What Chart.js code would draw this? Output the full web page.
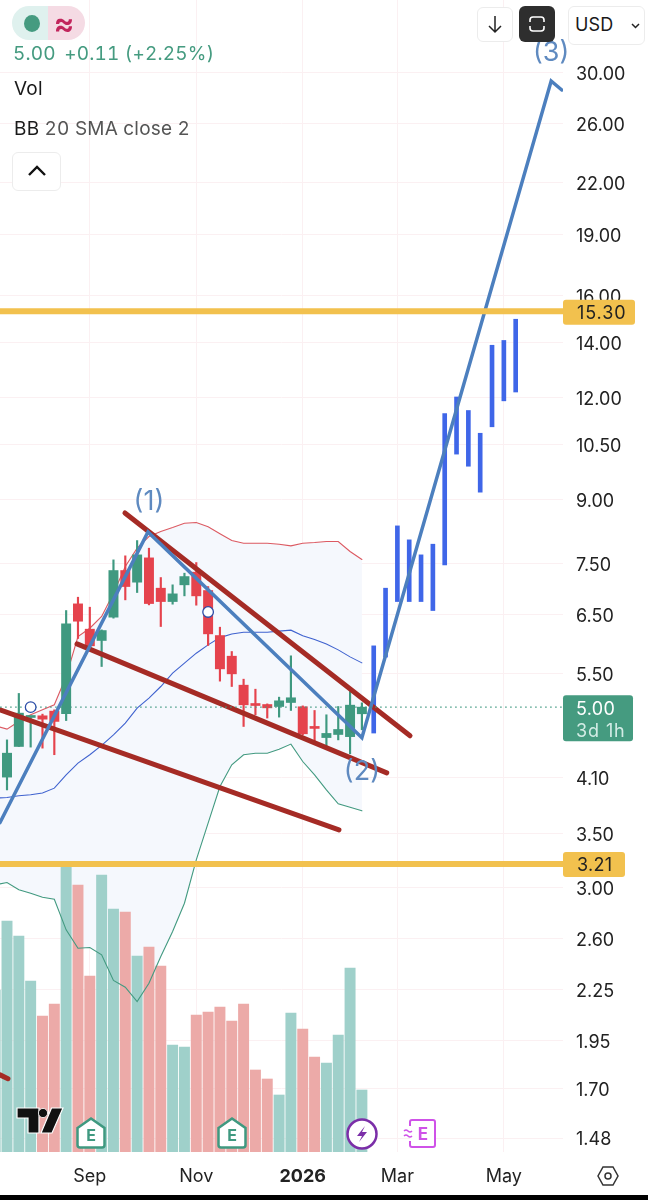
<!DOCTYPE html>
<html><head><meta charset="utf-8">
<script src="https://cdn.jsdelivr.net/npm/chart.js@4"></script>
<style>
html,body{margin:0;padding:0;background:#000;width:648px;height:1200px;overflow:hidden;font-family:Inter,"Noto Sans",sans-serif}
#wrap{position:relative;width:648px;height:1195px;background:#fff;overflow:hidden}
canvas{position:absolute;left:0;top:0}
.t{position:absolute;white-space:nowrap;font-size:19px;line-height:22px;letter-spacing:.2px;font-variant-numeric:tabular-nums}
.box{position:absolute;background:#fff;border:1.5px solid #ececec;border-radius:6px;box-sizing:border-box}
svg{position:absolute;overflow:visible}
</style></head><body>
<div id="wrap">
<canvas id="c" width="648" height="1195"></canvas>

<div style="position:absolute;left:12px;top:6px;width:36px;height:34px;background:#dff1ee;border-radius:17px 0 0 17px"></div>
<div style="position:absolute;left:48px;top:6px;width:37px;height:34px;background:#f5dbe4;border-radius:0 17px 17px 0"></div>
<div style="position:absolute;left:24px;top:15px;width:16px;height:17px;background:#459b80;border-radius:50%"></div>
<div class="t" style="left:54px;top:8px;color:#c2255c;font-size:31px;line-height:29px;font-weight:600">≈</div>
<div class="t" style="left:13px;top:43px;color:#459b80">5.00 <span style="margin-left:3px">+0.11 (+2.25%)</span></div>
<div class="t" style="left:14px;top:78px;color:#1a1a1a">Vol</div>
<div class="t" style="left:14px;top:118px;color:#555"><span style="color:#1a1a1a">BB</span> 20 SMA close 2</div>
<div class="box" style="left:12px;top:152px;width:49px;height:39px"></div>
<svg style="left:27px;top:165px" width="20" height="12"><path d="M2 10 L10 2 L18 10" fill="none" stroke="#111" stroke-width="2.4"/></svg>
<div class="box" style="left:477px;top:7px;width:36px;height:35px"></div>
<svg style="left:487px;top:14px" width="16" height="20"><path d="M8 2V18M2 12L8 18L14 12" fill="none" stroke="#222" stroke-width="1.5"/></svg>
<div style="position:absolute;left:519px;top:6px;width:36px;height:36px;background:#2e2e2e;border-radius:6px"></div>
<svg style="left:528px;top:15px" width="18" height="18"><path d="M2 7V5Q2 2 5 2H13Q16 2 16 5V7M2 11V13Q2 16 5 16H13Q16 16 16 13V11" fill="none" stroke="#fff" stroke-width="1.6"/></svg>
<div class="box" style="left:568px;top:6px;width:77px;height:39px"></div>
<div class="t" style="left:575px;top:14px;color:#1a1a1a;font-size:18px">USD</div>
<svg style="left:631px;top:23px" width="9" height="6"><path d="M1 1L4.500 4.500L8 1" fill="none" stroke="#222" stroke-width="1.500"/></svg>

<svg style="left:17px;top:1108px" width="52" height="26" viewBox="0 0 52 26">
<path d="M46 0L35 25H24L34.500 0Z" fill="#111" stroke="#fff" stroke-width="1.200"/><path d="M0 0H22V25H11V10H0Z" fill="#111" stroke="#fff" stroke-width="1.200"/><circle cx="26" cy="5" r="4.600" fill="#111" stroke="#fff" stroke-width=".8"/></svg>
<svg style="left:76px;top:1117px" width="30" height="32" viewBox="0 0 30 32"><path d="M1.500 11L15 1.500L28.500 11V28Q28.500 30.500 26 30.500H4Q1.500 30.500 1.500 28Z" fill="#fff" stroke="#3f9980" stroke-width="2.500"/><text x="15" y="24" text-anchor="middle" font-family="Inter" font-weight="700" font-size="16" fill="#3f9980">E</text></svg>
<svg style="left:217px;top:1117px" width="30" height="32" viewBox="0 0 30 32"><path d="M1.500 11L15 1.500L28.500 11V28Q28.500 30.500 26 30.500H4Q1.500 30.500 1.500 28Z" fill="#fff" stroke="#3f9980" stroke-width="2.500"/><text x="15" y="24" text-anchor="middle" font-family="Inter" font-weight="700" font-size="16" fill="#3f9980">E</text></svg>
<svg style="left:346px;top:1118px" width="32" height="32" viewBox="0 0 32 32"><circle cx="16" cy="16" r="14.500" fill="#fff" stroke="#7b2ea8" stroke-width="2.500"/><path d="M19 8L11 18H16L13 24L21 14H16Z" fill="#7b2ea8"/></svg>
<svg style="left:403px;top:1119px" width="33" height="29" viewBox="0 0 33 29"><path d="M7 7V3Q7 1 9 1H30Q32 1 32 3V26Q32 28 30 28H9Q7 28 7 26V22" fill="#fff" stroke="#cf52e8" stroke-width="2"/><path d="M1 12Q3 10 5 12T9 12M1 17Q3 15 5 17T9 17" fill="none" stroke="#cf52e8" stroke-width="1.500"/><text x="20" y="21" text-anchor="middle" font-family="Inter" font-weight="700" font-size="17" fill="#cf52e8">E</text></svg>
<svg style="left:596px;top:1164px" width="24" height="24" viewBox="0 0 24 24"><path d="M7 3H17L22 12L17 21H7L2 12Z" fill="none" stroke="#333" stroke-width="1.500"/><circle cx="12" cy="12" r="3" fill="none" stroke="#333" stroke-width="1.500"/></svg>
</div>
<script>
// --- price data (weekly candles, USD) ---
const candleIndex = Array.from({length:31},(_,i)=>i);
const opens  = [4.103,4.474,4.856,4.879,4.944,4.907,6.694,6.232,6.036,6.447,7.355,7.117,7.623,6.997,6.738,7.064,7.321,6.951,6.121,5.774,5.320,5.051,5.037,5.009,5.066,5.005,4.734,4.588,4.628,4.600,4.907];
const closes = [4.390,4.916,4.870,4.833,4.802,6.326,6.374,5.945,6.208,7.355,7.030,7.688,6.700,6.738,6.886,7.231,6.847,6.150,5.571,5.493,5.033,5.023,4.990,5.090,5.134,4.637,4.708,4.642,4.694,5.028,5.000];
const highs  = [4.558,5.197,4.870,4.902,4.962,6.569,6.821,6.631,6.220,7.580,7.667,8.005,7.834,7.211,7.064,7.300,7.523,7.030,6.267,5.851,5.411,5.260,5.046,5.143,5.780,5.018,4.953,4.893,5.009,5.226,5.061];
const lows   = [3.957,4.474,4.466,4.453,4.371,4.814,6.070,5.934,5.608,6.429,6.770,6.912,6.675,6.279,6.688,6.847,6.669,5.951,5.381,5.300,4.734,4.893,4.848,4.861,4.953,4.624,4.537,4.474,4.558,4.382,4.690];
// --- volume, millions; first entry is the week before candle 0 ---
const volumes   = [1.62,2.31,2.16,1.71,1.36,1.48,2.87,2.67,1.76,2.77,2.43,2.40,1.96,2.05,1.86,1.07,1.05,1.37,1.40,1.45,1.31,1.48,0.82,0.73,0.57,1.39,1.23,0.95,0.89,1.17,1.84,0.62];
const volumeUp  = [1,1,1,1,0,0,1,0,0,1,1,0,1,0,0,1,1,0,0,0,0,0,0,0,1,1,0,0,1,1,1,1];
// --- Bollinger bands; first entry is the week before candle 0 ---
const bbUpper = [4.743,4.699,4.802,4.893,4.962,5.033,5.452,6.104,6.249,6.459,6.899,7.439,7.834,8.096,8.212,8.305,8.407,8.423,8.322,8.162,8.005,7.945,7.945,7.945,7.923,7.886,7.945,7.960,7.983,7.983,7.762,7.588];
const bbBasis = [3.866,3.874,3.892,3.904,3.922,3.977,4.130,4.268,4.371,4.487,4.624,4.779,4.986,5.129,5.300,5.504,5.661,5.823,5.962,6.085,6.147,6.178,6.178,6.178,6.197,6.215,6.116,6.054,5.978,5.878,5.763,5.666];
const bbLower = [3.026,3.046,2.984,2.956,2.922,2.905,2.665,2.530,2.535,2.483,2.310,2.266,2.176,2.292,2.471,2.652,2.873,3.248,3.602,3.996,4.248,4.371,4.390,4.390,4.440,4.504,4.288,4.130,3.957,3.805,3.769,3.730];
// --- drawn projection bars ---
const projIndex = [31,32,33,34,35,36,37,38,39,40,41,42,43];
const projHigh  = [5.945,6.997,8.344,8.021,7.688,7.923,11.46,12.01,11.56,10.84,13.90,14.09,14.96];
const projLow   = [4.647,5.759,6.738,6.738,6.738,6.569,7.474,10.22,9.876,9.178,11.04,11.88,12.18];
// --- drawn lines (week index, price) ---
const waveX = [-0.6,11.92,30,46,46.9];
const waveY = [3.607,8.204,4.585,29.33,28.59];
const trendA = [[9.97,8.655],[34.07,4.611]];
const trendB = [[5.92,5.979],[32.1,4.152]];
const trendC = [[-0.59,4.962],[28.06,3.535]];
const trendD = [[-0.59,1.769],[0.08,1.750]];
const levels = [15.30,3.21];
const lastPrice = 5.00;
const waveLabels = ['(1)','(2)','(3)'];
const waveLabelX = [12,30,46];
const waveLabelY = [8.955,4.176,31.83];
const dividendMarks = [[2,5.00],[17,6.543]];
// --- axes ---
const priceTicks = [30,26,22,19,16,14,12,10.5,9,7.5,6.5,5.5,4.1,3.5,3,2.6,2.25,1.95,1.7,1.48];
const dateTicks  = [7,16,25,33,42];
const dateLabels = ['Sep','Nov','2026','Mar','May'];

const GREEN='#3f9980', RED='#e5434d', WAVE='#4c7fbe', TREND='#a52b25', GOLD='#f2c14e', FONT='Inter, "Noto Sans", sans-serif';
const pts=(xs,ys)=>xs.map((x,i)=>({x,y:ys[i]}));
const pairs=a=>a.map(p=>({x:p[0],y:p[1]}));
const bandX=[-1,...candleIndex];
const lineDs=(data,color,width,order,extra)=>Object.assign({type:'line',data,borderColor:color,borderWidth:width,pointRadius:0,tension:0,fill:false,order,yAxisID:'y',borderCapStyle:'round',borderJoinStyle:'miter'},extra||{});
const noPad=s=>{s.paddingLeft=s.paddingRight=s.paddingTop=s.paddingBottom=0;};

const datasets=[
 lineDs(pts(bandX,bbUpper),'#dc5a62',1.1,50),
 lineDs(pts(bandX,bbLower),'rgba(0,0,0,0)',0,100,{fill:{target:0},backgroundColor:'#f5f8fd'}),
 lineDs(pts(bandX,bbBasis),'#3f62cf',1.1,50),
 lineDs(pts(bandX,bbLower),'#429a80',1.1,50),
 {type:'bar',data:pts(bandX,volumes),backgroundColor:volumeUp.map(u=>u?'#9fd0ca':'#ecaaa8'),barThickness:10.3,grouped:false,yAxisID:'vol',order:90,borderWidth:0},
 {type:'bar',data:candleIndex.map(i=>({x:i,y:[lows[i],highs[i]]})),backgroundColor:candleIndex.map(i=>closes[i]>=opens[i]?GREEN:RED),barThickness:1.5,grouped:false,yAxisID:'y',order:40,borderWidth:0},
 {type:'bar',data:candleIndex.map(i=>({x:i,y:[opens[i],closes[i]]})),backgroundColor:candleIndex.map(i=>closes[i]>=opens[i]?GREEN:RED),barThickness:9.3,grouped:false,minBarLength:2,yAxisID:'y',order:39,borderWidth:0},
 {type:'bar',data:projIndex.map((x,i)=>({x,y:[projLow[i],projHigh[i]]})),backgroundColor:'#3f66e8',barThickness:4,grouped:false,yAxisID:'y',order:30,borderWidth:0},
 lineDs(pairs(trendC),TREND,5,20),
 lineDs(pairs(trendB),TREND,5,20),
 lineDs(pairs(trendA),TREND,5,20),
 lineDs(pairs(trendD),TREND,5,20),
 lineDs(pts(waveX,waveY),WAVE,3.5,15),
 lineDs([{x:-1,y:levels[0]},{x:48,y:levels[0]}],GOLD,6,10,{borderCapStyle:'butt'}),
 lineDs([{x:-1,y:levels[1]},{x:48,y:levels[1]}],GOLD,6,10,{borderCapStyle:'butt'}),
 lineDs([{x:-1,y:lastPrice},{x:48,y:lastPrice}],'#3f9980',1.3,12,{borderDash:[1.5,3.5],borderCapStyle:'butt'}),
 {type:'scatter',data:pairs(dividendMarks),pointRadius:5.3,pointBackgroundColor:'#fff',pointBorderColor:'#2c4ea8',pointBorderWidth:1.3,order:8,yAxisID:'y'}
];

const overlay={id:'overlay',afterDraw(ch){
 const c=ch.ctx,y=ch.scales.y,x=ch.scales.x;
 c.save();
 c.textBaseline='middle';
 c.font='27px '+FONT; c.textAlign='center'; c.fillStyle='#5f8ac0';
 waveLabels.forEach((t,i)=>c.fillText(t,x.getPixelForValue(waveLabelX[i]),y.getPixelForValue(waveLabelY[i])+1));
 const tag=(yc,w,h,bg)=>{c.fillStyle=bg;c.beginPath();c.roundRect(563,yc-h/2,w,h,3);c.fill();};
 c.textAlign='left';
 const y1=y.getPixelForValue(levels[0]),y2=y.getPixelForValue(levels[1]),y3=y.getPixelForValue(lastPrice);
 c.letterSpacing='.9px';
 tag(y1+1,72,25,GOLD); c.font='18px '+FONT; c.fillStyle='#222'; c.fillText('15.30',577,y1+2.5);
 c.letterSpacing='.3px';
 tag(y2+.5,62,25,GOLD); c.fillStyle='#222'; c.fillText('3.21',577,y2+2);
 tag(y3+11,70,46,'#459b80'); c.fillStyle='#fff'; c.fillText('5.00',576,y3+2); c.fillStyle='#d3ece5'; c.font='18px '+FONT; c.letterSpacing='.9px'; c.fillText('3d 1h',576,y3+24);
 c.restore();
}};

new Chart(document.getElementById('c'),{
 data:{datasets},
 plugins:[overlay],
 options:{
  responsive:false,animation:false,
  layout:{padding:0,autoPadding:false},
  plugins:{legend:{display:false},tooltip:{enabled:false}},
  scales:{
   x:{type:'linear',offset:false,min:-0.5917,max:47,position:'bottom',
     grid:{color:'#fbf0f2',drawTicks:false,lineWidth:1,offset:false},border:{display:false},
     afterBuildTicks:s=>{s.ticks=dateTicks.map(v=>({value:v}));},
     afterFit:s=>{s.height=43;noPad(s);},
     ticks:{autoSkip:false,maxRotation:0,padding:14,color:'#222',
       font:ctx=>({family:FONT,size:18,weight:ctx.tick&&ctx.tick.value===25?'700':'400'}),
       callback:v=>dateLabels[dateTicks.indexOf(v)]||''}},
   y:{type:'logarithmic',min:1.4226,max:36.87,bounds:'data',position:'right',
     grid:{color:'#fbf0f2',drawTicks:false,lineWidth:1},border:{display:false},
     afterBuildTicks:s=>{s.ticks=priceTicks.map(v=>({value:v}));},
     afterFit:s=>{s.width=85;noPad(s);},
     ticks:{autoSkip:false,padding:13,labelOffset:2,color:'#222',font:{family:FONT,size:18},callback:v=>Number(v).toFixed(2)}},
   vol:{type:'linear',min:0,max:11.52,display:false}
  }
 }
});
</script>
</body></html>
